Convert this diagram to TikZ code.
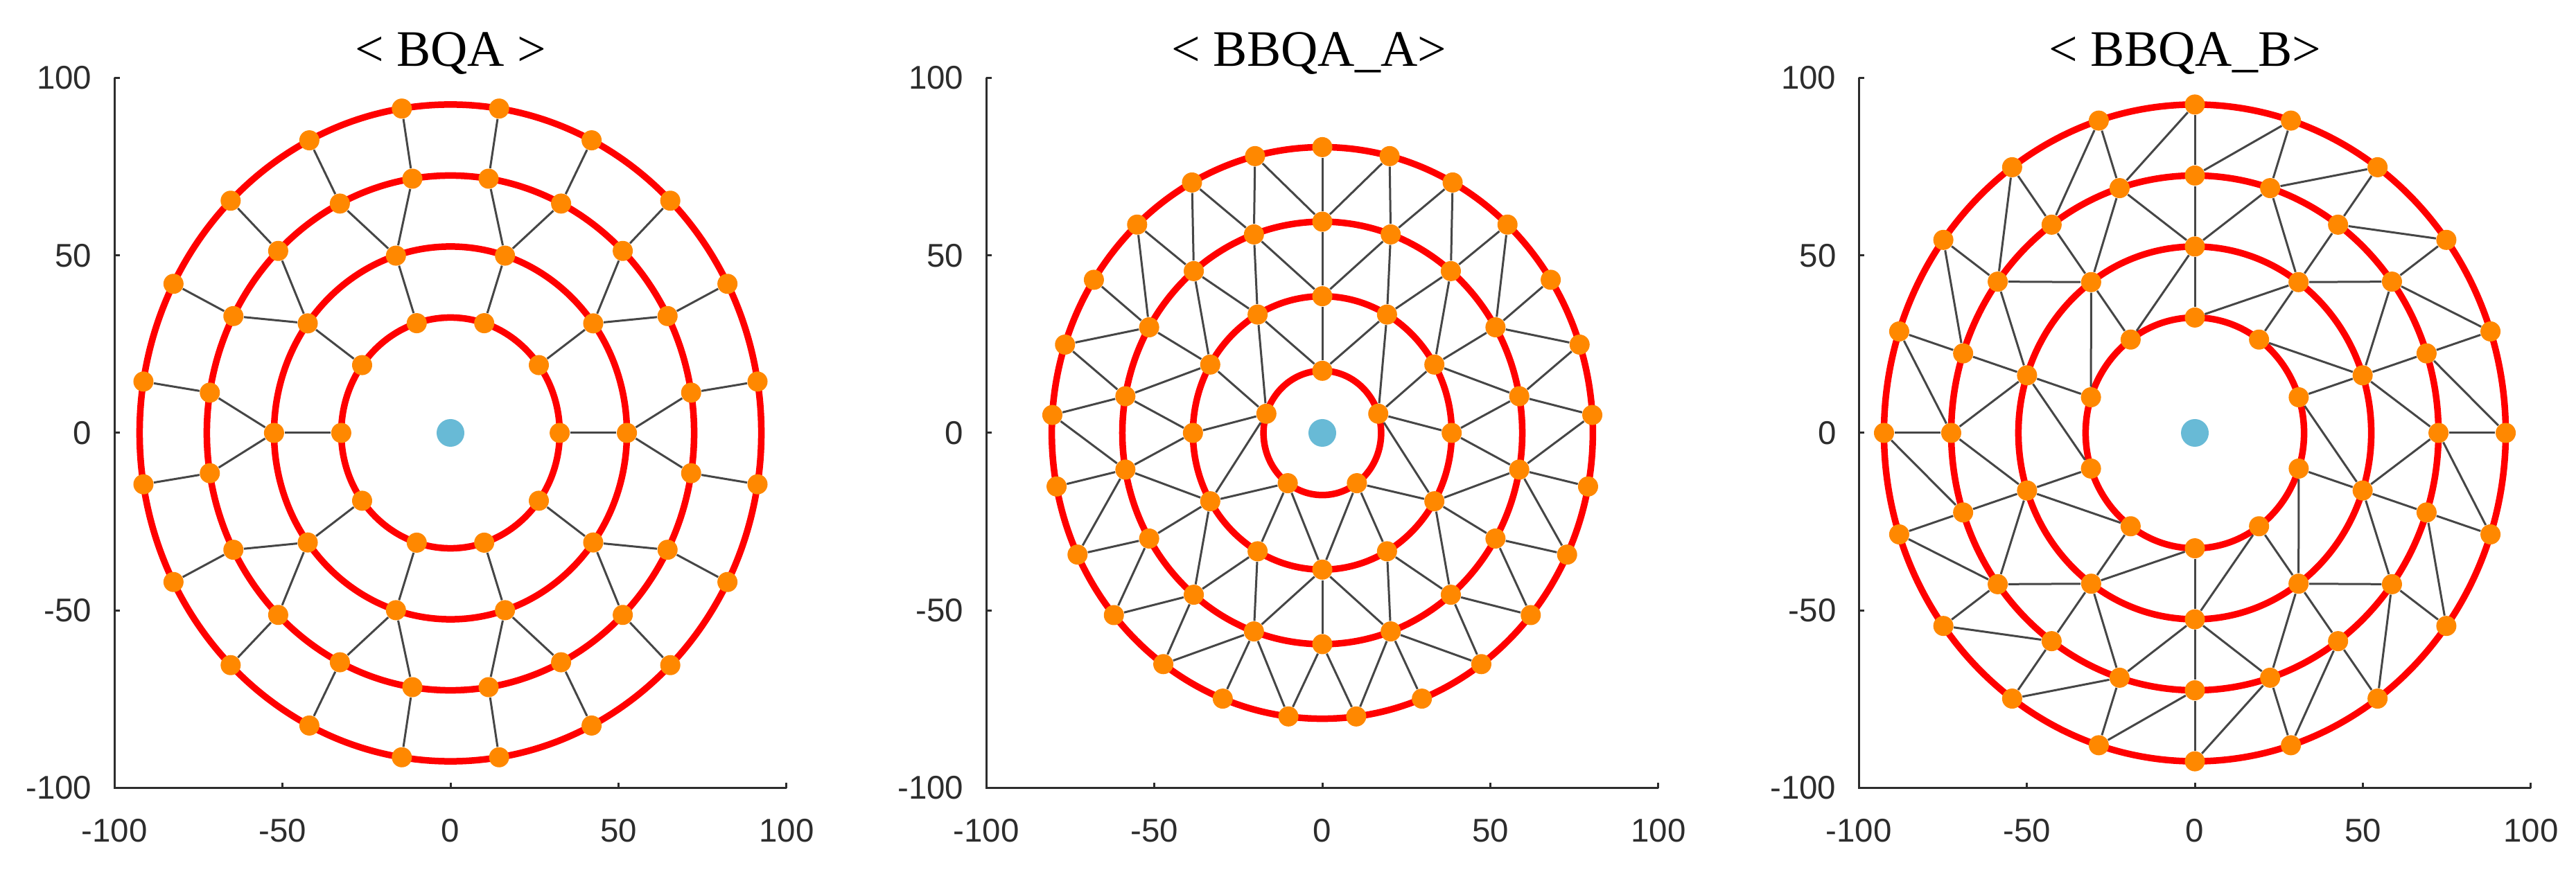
\documentclass[tikz,border=0pt]{standalone}
\usepackage{fontspec}
\setmainfont{Liberation Serif}
\newfontfamily\lsans{Liberation Sans}
\pgfdeclarelayer{bg}
\pgfsetlayers{bg,main}
\definecolor{ringred}{RGB}{255,0,0}
\definecolor{dotorange}{RGB}{255,136,0}
\definecolor{dotblue}{RGB}{104,186,214}
\definecolor{meshgray}{RGB}{70,70,70}
\definecolor{axgray}{RGB}{45,45,45}
\tikzset{
  odot/.style={circle, fill=dotorange, draw=none, minimum size=0.29cm, inner sep=0pt},
  bdot/.style={circle, fill=dotblue, draw=none, minimum size=0.40cm, inner sep=0pt},
  ring/.style={draw=ringred, line width=0.095cm},
  mesh/.style={draw=meshgray, line width=0.03cm},
  axisline/.style={draw=axgray, line width=0.03cm},
  ticklab/.style={font=\lsans\fontsize{13.5pt}{15pt}\selectfont, text=axgray, inner sep=0pt},
  ttl/.style={font=\fontsize{21pt}{25pt}\selectfont, text=black, inner sep=0pt},
  panel/.style={x=0.0485cm, y=0.05125cm}
}
\newcommand{\drawaxes}[1]{%
  \draw[axisline] (-100,100) -- (-100,-100) -- (100,-100);
  \foreach \t/\c in {-100/1,-50/2,0/3,50/4,100/5} {
    \draw[axisline] (-100,\t) -- ++(1.65,0);
    \draw[axisline] (\t,-100) -- ++(0,1.56);
    \node[ticklab, anchor=east] (#1y\c) at (-106.6,\t) {\t};
    \node[ticklab] (#1x\c) at (\t,-112.1) {\t};
  }
}
\begin{document}
\begin{tikzpicture}
\useasboundingbox (0,0) rectangle (37.17,12.55);
\begin{pgfonlayer}{bg}
  \fill[white] (0,0) rectangle (37.17,12.55);
\end{pgfonlayer}

% ---------------- Panel A : BQA ----------------
\begin{scope}[shift={(6.50cm,6.30cm)}, panel]
  \node[ttl, anchor=base] (tA) at (0,103.3) {< BQA >};
  \drawaxes{pA}
  \foreach \a in {0,...,9} {
    \node[odot] (pA1n\a) at ({36*\a}:32.5) {};
    \node[odot] (pA2n\a) at ({36*\a}:52.5) {};
  }
  \foreach \b in {0,...,19} {
    \node[odot] (pA3n\b) at ({9+18*\b}:72.5) {};
    \node[odot] (pA4n\b) at ({9+18*\b}:92.5) {};
  }
  \node[bdot] (pAc) at (0,0) {};
  \begin{pgfonlayer}{bg}
    \foreach \r in {32.5,52.5,72.5,92.5} \draw[ring] (0,0) circle [radius=\r];
    \foreach \a in {0,...,9} {
      \pgfmathtruncatemacro\bb{2*\a}
      \pgfmathtruncatemacro\bm{mod(2*\a+19,20)}
      \draw[mesh] (pA1n\a) -- (pA2n\a);
      \draw[mesh] (pA2n\a) -- (pA3n\bb);
      \draw[mesh] (pA2n\a) -- (pA3n\bm);
    }
    \foreach \b in {0,...,19} \draw[mesh] (pA3n\b) -- (pA4n\b);
  \end{pgfonlayer}
\end{scope}

% ---------------- Panel B : BBQA_A ----------------
\begin{scope}[shift={(19.08cm,6.30cm)}, panel]
  \node[ttl, anchor=base] (tB) at (-4,103.3) {< BBQA\_A>};
  \drawaxes{pB}
  \foreach \h in {0,...,4} \node[odot] (pB1n\h) at ({90+72*\h}:17.5) {};
  \foreach \i in {0,...,11} \node[odot] (pB2n\i) at ({90+30*\i}:38.5) {};
  \foreach \j in {0,...,17} \node[odot] (pB3n\j) at ({90+20*\j}:59.5) {};
  \foreach \k in {0,...,24} \node[odot] (pB4n\k) at ({90+14.4*\k}:80.5) {};
  \node[bdot] (pBc) at (0,0) {};
  \begin{pgfonlayer}{bg}
    \foreach \r in {17.5,38.5,59.5,80.5} \draw[ring] (0,0) circle [radius=\r];
    \foreach \u/\v in {0/0,0/1,0/11,1/1,1/2,1/3,1/4,2/4,2/5,2/6,3/6,3/7,3/8,4/8,4/9,4/10,4/11}
      \draw[mesh] (pB1n\u) -- (pB2n\v);
    \foreach \u/\v in {0/17,0/0,0/1,1/1,1/2,2/2,2/3,2/4,3/4,3/5,4/5,4/6,4/7,5/7,5/8,6/8,6/9,6/10,7/10,7/11,8/11,8/12,8/13,9/13,9/14,10/14,10/15,10/16,11/16,11/17}
      \draw[mesh] (pB2n\u) -- (pB3n\v);
    \foreach \u/\v in {0/0,0/1,1/1,1/2,2/2,2/3,3/3,3/4,3/5,4/5,4/6,5/6,5/7,5/8,6/8,6/9,7/9,7/10,8/10,8/11,8/12,9/12,9/13,0/24,17/24,17/23,16/23,16/22,15/22,15/21,15/20,14/20,14/19,13/19,13/18,13/17,12/17,12/16,11/16,11/15,10/15,10/14,10/13}
      \draw[mesh] (pB3n\u) -- (pB4n\v);
  \end{pgfonlayer}
\end{scope}

% ---------------- Panel C : BBQA_B ----------------
\begin{scope}[shift={(31.67cm,6.30cm)}, panel]
  \node[ttl, anchor=base] (tC) at (-3,103.3) {< BBQA\_B>};
  \drawaxes{pC}
  \foreach \a in {0,...,9} {
    \node[odot] (pC1n\a) at ({18+36*\a}:32.5) {};
    \node[odot] (pC2n\a) at ({18+36*\a}:52.5) {};
  }
  \foreach \b in {0,...,19} {
    \node[odot] (pC3n\b) at ({18*\b}:72.5) {};
    \node[odot] (pC4n\b) at ({18*\b}:92.5) {};
  }
  \node[bdot] (pCc) at (0,0) {};
  \begin{pgfonlayer}{bg}
    \foreach \r in {32.5,52.5,72.5,92.5} \draw[ring] (0,0) circle [radius=\r];
    \foreach \a in {0,...,9} {
      \pgfmathtruncatemacro\am{mod(\a+9,10)}
      \pgfmathtruncatemacro\ba{2*\a}
      \pgfmathtruncatemacro\bc{2*\a+1}
      \pgfmathtruncatemacro\bd{mod(2*\a+2,20)}
      \draw[mesh] (pC1n\a) -- (pC2n\a);
      \draw[mesh] (pC1n\a) -- (pC2n\am);
      \draw[mesh] (pC2n\a) -- (pC3n\ba);
      \draw[mesh] (pC2n\a) -- (pC3n\bc);
      \draw[mesh] (pC2n\a) -- (pC3n\bd);
    }
    \foreach \b in {0,...,19} {
      \pgfmathtruncatemacro\bn{mod(\b+1,20)}
      \draw[mesh] (pC3n\b) -- (pC4n\b);
      \draw[mesh] (pC4n\b) -- (pC3n\bn);
    }
  \end{pgfonlayer}
\end{scope}
\end{tikzpicture}
\end{document}
